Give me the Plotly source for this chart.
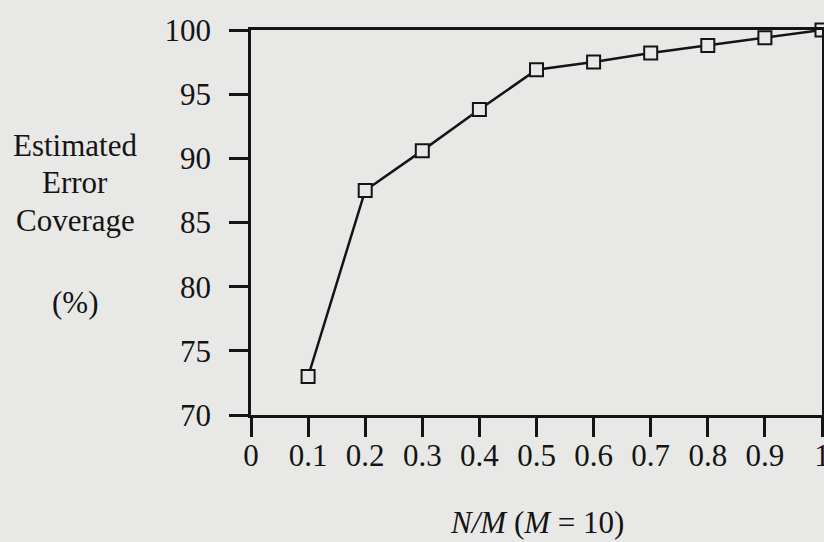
import plotly.graph_objects as go

ratio = [0.1, 0.2, 0.3, 0.4, 0.5, 0.6, 0.7, 0.8, 0.9, 1.0]
coverage = [73.0, 87.5, 90.6, 93.8, 96.9, 97.5, 98.2, 98.8, 99.4, 100.0]
x_ticks = [0, 0.1, 0.2, 0.3, 0.4, 0.5, 0.6, 0.7, 0.8, 0.9, 1]
x_labels = ["0", "0.1", "0.2", "0.3", "0.4", "0.5", "0.6", "0.7", "0.8", "0.9", "1"]
y_ticks = [70, 75, 80, 85, 90, 95, 100]
y_title_lines = ["Estimated", "Error", "Coverage", "(%)"]
y_title_pos = [0.701, 0.605, 0.506, 0.293]

BG = "#e8e8e6"
INK = "#141414"
FONT = "Liberation Serif"
FS = 31

fig = go.Figure()
fig.add_trace(go.Scatter(
    x=ratio, y=coverage, mode="lines+markers",
    line=dict(color=INK, width=2.5),
    marker=dict(symbol="square", size=13, color=BG, line=dict(color=INK, width=2)),
    cliponaxis=False, showlegend=False,
))

axis_common = dict(
    showline=True, linecolor=INK, linewidth=2.5, mirror=True,
    ticks="outside", ticklen=19, tickwidth=2.5, tickcolor=INK,
    showgrid=False, zeroline=False, ticklabeloverflow="allow", automargin=False,
    tickfont=dict(family=FONT, size=FS, color=INK),
)

annotations = [
    dict(text=t, xref="paper", yref="paper", x=-0.308, y=p,
         xanchor="center", yanchor="middle", showarrow=False,
         font=dict(family=FONT, size=FS, color=INK))
    for t, p in zip(y_title_lines, y_title_pos)
]
annotations.append(
    dict(text="<i>N/M</i> (<i>M</i> = 10)", xref="paper", yref="paper",
         x=0.5, y=-0.278, xanchor="center", yanchor="middle", showarrow=False,
         font=dict(family=FONT, size=FS, color=INK))
)

fig.update_layout(
    width=824, height=542,
    margin=dict(l=251, r=2, t=30, b=127),
    paper_bgcolor=BG, plot_bgcolor=BG,
    xaxis=dict(range=[0, 1], tickvals=x_ticks, ticktext=x_labels,
               ticklabelstandoff=-8, **axis_common),
    yaxis=dict(range=[70, 100], tickvals=y_ticks, ticklabelstandoff=12, **axis_common),
    font=dict(family=FONT, size=FS, color=INK),
    annotations=annotations,
)

fig.write_html("out.html")
